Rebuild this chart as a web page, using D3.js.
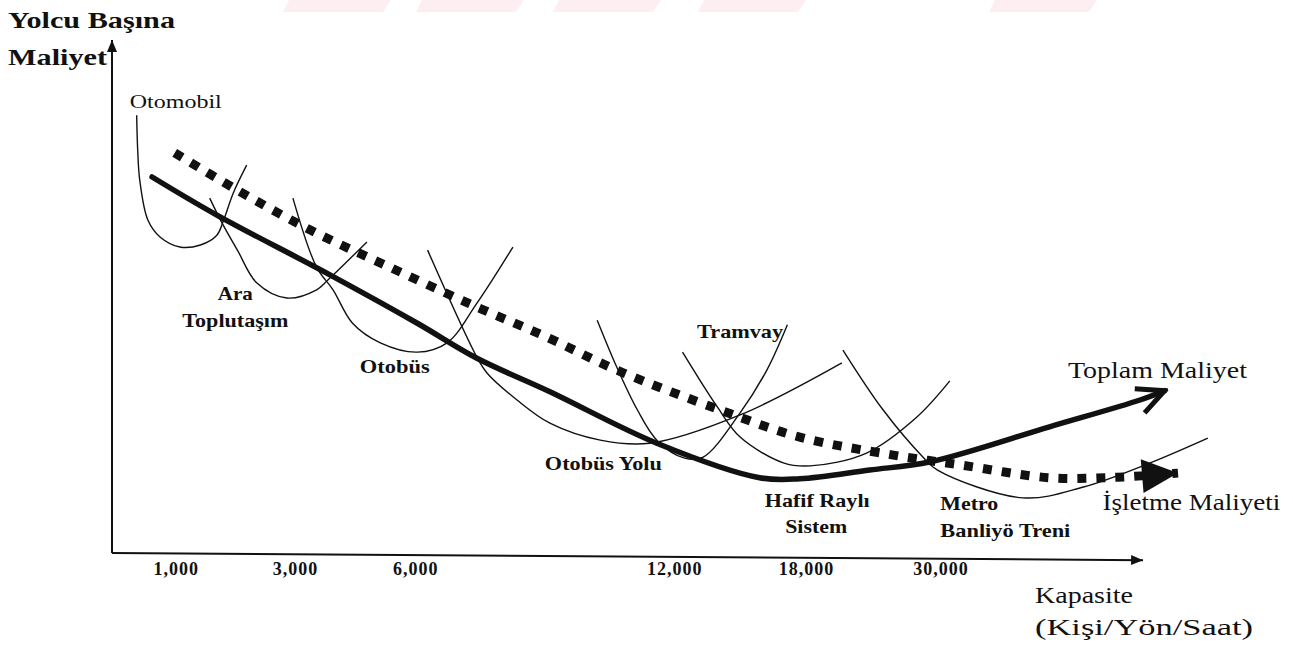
<!DOCTYPE html>
<html>
<head>
<meta charset="utf-8">
<script src="https://cdn.jsdelivr.net/npm/d3@7"></script>
<style>
  body { margin: 0; background: #fff; }
  text { font-family: "Liberation Serif", "Times New Roman", serif; fill: #111; }
</style>
</head>
<body>
<div id="chart"></div>
<script>
// Position units along the capacity axis (0..100) and cost units (0..100),
// read off the scanned diagram.

// Axis ticks (capacity, persons/direction/hour)
const tickLabels = ["1,000", "3,000", "6,000", "12,000", "18,000", "30,000"];
const tickAt = [6.2, 17.8, 29.5, 54.7, 67.5, 80.6];

// Per-mode cost curves
const otomobil = [[2.4, 85.4], [2.5, 78.6], [2.7, 72.8], [3.5, 65.0], [4.7, 61.7], [6.6, 59.8],
  [8.6, 60.2], [10.2, 62.1], [10.8, 64.7], [11.8, 70.3], [13.1, 75.7]];
const araToplutasim = [[9.5, 69.3], [10.7, 64.5], [12.2, 59.2], [14.1, 52.8], [17.0, 49.9],
  [19.9, 51.5], [21.0, 53.4], [24.8, 60.8]];
const otobus = [[17.6, 69.3], [19.9, 55.9], [21.5, 51.5], [23.4, 45.0], [26.1, 41.2],
  [29.7, 39.4], [32.6, 41.2], [35.5, 48.9], [39.0, 59.8]];
const otobusYolu = [[30.7, 59.2], [35.5, 38.4], [36.5, 35.3], [39.4, 30.1], [42.6, 25.6],
  [47.5, 22.3], [52.3, 21.7], [61.1, 27.2], [71.0, 37.3]];
const tramvay = [[47.2, 45.6], [49.1, 36.5], [51.1, 28.2], [53.0, 22.3], [55.7, 18.8],
  [57.5, 19.0], [61.1, 27.6], [63.7, 35.9], [65.7, 44.7]];
const hafifRayli = [[55.5, 39.4], [58.9, 28.7], [61.1, 22.9], [65.3, 17.9], [67.9, 17.3],
  [73.4, 19.8], [78.3, 26.8], [81.5, 33.8]];
const metro = [[71.1, 39.8], [75.0, 28.2], [78.9, 19.0], [80.3, 16.5], [88.6, 11.1],
  [94.5, 13.2], [101.0, 17.9], [106.6, 22.7]];

// Envelope curves
const toplamMaliyet = [[3.9, 73.4], [10.2, 66.0], [21.2, 54.4], [29.7, 45.0], [35.5, 38.2],
  [42.6, 31.7], [53.0, 21.7], [63.0, 15.0], [66.9, 14.8], [73.7, 16.5], [79.6, 18.1],
  [91.2, 24.9], [100.0, 30.1], [102.4, 31.9]];
const isletmeMaliyeti = [[6.1, 78.1], [11.8, 71.3], [19.3, 63.1], [27.0, 55.9], [35.1, 48.5],
  [42.3, 42.3], [49.1, 35.9], [59.1, 28.2], [66.9, 22.9], [76.0, 19.4], [82.5, 17.5],
  [91.2, 15.0], [97.8, 15.1], [103.7, 15.9]];

const modeCurves = [otomobil, araToplutasim, otobus, otobusYolu, tramvay, hafifRayli, metro];

// Curve labels (anchor point in chart units)
const modeLabels = [
  { text: "Otomobil", x: 6.2, y: 86.8 },
  { text: "Ara", x: 12.0, y: 49.5 },
  { text: "Toplutaşım", x: 12.0, y: 44.3 },
  { text: "Otobüs", x: 27.5, y: 35.3 },
  { text: "Otobüs Yolu", x: 47.8, y: 16.5 },
  { text: "Tramvay", x: 61.1, y: 42.1 },
  { text: "Hafif Raylı", x: 68.6, y: 9.3 },
  { text: "Sistem", x: 68.5, y: 4.3 },
  { text: "Metro", x: 83.4, y: 8.7 },
  { text: "Banliyö Treni", x: 86.9, y: 3.5 },
];
const seriesLabels = [
  { text: "Toplam Maliyet", x: 101.7, y: 34.4 },
  { text: "İşletme Maliyeti", x: 105.0, y: 8.7 },
];

// text widths in the scan
const textWidth = {
  "Otomobil": 92, "Ara": 35, "Toplutaşım": 106, "Otobüs": 70, "Otobüs Yolu": 117,
  "Tramvay": 86, "Hafif Raylı": 105, "Sistem": 62, "Metro": 58, "Banliyö Treni": 130,
  "Toplam Maliyet": 179, "İşletme Maliyeti": 178,
};

const W = 1293, H = 654;
const svg = d3.select("#chart").append("svg")
  .attr("width", W).attr("height", H)
  .attr("viewBox", `0 0 ${W} ${H}`);

const x = d3.scaleLinear().domain([0, 100]).range([112, 1140]);
const y = d3.scaleLinear().domain([0, 100]).range([555, 40]);

const line = d3.line()
  .x(d => x(d[0]))
  .y(d => y(d[1]))
  .curve(d3.curveCatmullRom.alpha(0.5));

// faint watermark bars at the top of the scan
const watermark = [283, 416, 553, 698, 989];
svg.append("g").selectAll("path").data(watermark).join("path")
  .attr("d", d => `M${d + 6},0 L${d + 108},0 L${d + 100},12 L${d},12 Z`)
  .attr("fill", "#fdeef1");

// Markers
const defs = svg.append("defs");
defs.append("marker")
  .attr("id", "axisArrow")
  .attr("viewBox", "-12 -6 14 12")
  .attr("refX", 0).attr("refY", 0)
  .attr("markerWidth", 14).attr("markerHeight", 12)
  .attr("markerUnits", "userSpaceOnUse")
  .attr("orient", "auto")
  .append("path")
  .attr("d", "M-12,-5 L0,0 L-12,5 Z")
  .attr("fill", "#111");

defs.append("marker")
  .attr("id", "openArrow")
  .attr("viewBox", "-32 -18 36 36")
  .attr("refX", 0).attr("refY", 0)
  .attr("markerWidth", 36).attr("markerHeight", 36)
  .attr("markerUnits", "userSpaceOnUse")
  .attr("orient", "auto")
  .append("path")
  .attr("d", "M-27,-13 L0,0 L-27,13")
  .attr("fill", "none")
  .attr("stroke", "#111")
  .attr("stroke-width", 5)
  .attr("stroke-linejoin", "miter");

defs.append("marker")
  .attr("id", "solidArrow")
  .attr("viewBox", "-38 -20 40 40")
  .attr("refX", 0).attr("refY", 0)
  .attr("markerWidth", 40).attr("markerHeight", 40)
  .attr("markerUnits", "userSpaceOnUse")
  .attr("orient", "auto")
  .append("path")
  .attr("d", "M-36,-17 L0,0 L-36,17 Z")
  .attr("fill", "#111");

// Axes (the scanned x axis sags slightly to the right)
svg.append("line")
  .attr("x1", x(0)).attr("y1", y(0.4))
  .attr("x2", x(0)).attr("y2", y(100))
  .attr("stroke", "#111").attr("stroke-width", 2)
  .attr("marker-end", "url(#axisArrow)");
svg.append("line")
  .attr("x1", x(0)).attr("y1", y(0.4))
  .attr("x2", x(100.3)).attr("y2", y(-1))
  .attr("stroke", "#111").attr("stroke-width", 2)
  .attr("marker-end", "url(#axisArrow)");

const xAxis = svg.append("g")
  .attr("transform", `translate(0,${y(0)})`)
  .call(d3.axisBottom(x)
    .tickValues(tickAt)
    .tickFormat((d, i) => tickLabels[i])
    .tickSize(0)
    .tickPadding(7));
xAxis.select(".domain").remove();
xAxis.selectAll("text")
  .attr("font-family", "Liberation Serif, serif")
  .attr("font-size", 18)
  .attr("font-weight", "bold")
  .attr("fill", "#111")
  .attr("letter-spacing", 1);

// Mode cost curves
svg.append("g").selectAll("path").data(modeCurves).join("path")
  .attr("d", line)
  .attr("fill", "none")
  .attr("stroke", "#111")
  .attr("stroke-width", 1.4);

// Operating cost (dashed squares)
svg.append("path")
  .datum(isletmeMaliyeti)
  .attr("d", line)
  .attr("fill", "none")
  .attr("stroke", "#111")
  .attr("stroke-width", 9)
  .attr("stroke-dasharray", "9,10")
  .attr("marker-end", "url(#solidArrow)");

// Total cost (thick)
svg.append("path")
  .datum(toplamMaliyet)
  .attr("d", line)
  .attr("fill", "none")
  .attr("stroke", "#111")
  .attr("stroke-width", 5.5)
  .attr("stroke-linecap", "round")
  .attr("marker-end", "url(#openArrow)");

// Labels
function label(g, d, size, weight) {
  g.append("text")
    .attr("x", x(d.x))
    .attr("y", y(d.y))
    .attr("text-anchor", "middle")
    .attr("font-size", size)
    .attr("font-weight", weight)
    .attr("textLength", textWidth[d.text])
    .attr("lengthAdjust", "spacingAndGlyphs")
    .text(d.text);
}
const lg = svg.append("g");
modeLabels.forEach(d => label(lg, d, 19, d.text === "Otomobil" ? "normal" : "bold"));
seriesLabels.forEach(d => label(lg, d, 24, "normal"));

// Axis titles
const titles = svg.append("g");
titles.append("text").attr("x", 8).attr("y", 28)
  .attr("font-size", 23).attr("font-weight", "bold")
  .attr("textLength", 167).attr("lengthAdjust", "spacingAndGlyphs")
  .text("Yolcu Başına");
titles.append("text").attr("x", 8).attr("y", 65)
  .attr("font-size", 23).attr("font-weight", "bold")
  .attr("textLength", 99).attr("lengthAdjust", "spacingAndGlyphs")
  .text("Maliyet");
titles.append("text").attr("x", 1035).attr("y", 603)
  .attr("font-size", 24)
  .attr("textLength", 98).attr("lengthAdjust", "spacingAndGlyphs")
  .text("Kapasite");
titles.append("text").attr("x", 1035).attr("y", 635)
  .attr("font-size", 24)
  .attr("textLength", 218).attr("lengthAdjust", "spacingAndGlyphs")
  .text("(Kişi/Yön/Saat)");
</script>
</body>
</html>
